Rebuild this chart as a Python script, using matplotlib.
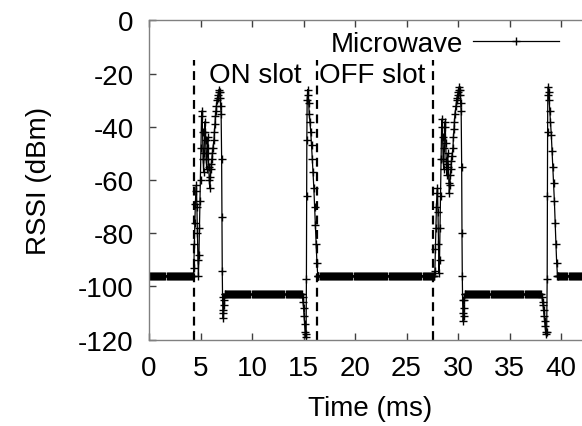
import numpy as np
import matplotlib
matplotlib.use('Agg')
import matplotlib.pyplot as plt

plt.rcParams['font.family'] = ['Liberation Sans', 'DejaVu Sans']
plt.rcParams['axes.unicode_minus'] = False

# sampling period of the flat parts (ms)
SAMPLE_MS = 0.1

# flat RSSI stretches: (start ms, end ms, level dBm)
flat_segments = [
    (0.0, 4.30, -96),
    (7.35, 14.90, -103),
    (16.45, 27.70, -96),
    (30.65, 38.15, -103),
    (39.72, 43.0, -96),
]

# ON slot burst, cycle 1
burst1_t = [4.30, 4.35, 4.40, 4.45, 4.50, 4.55, 4.60, 4.65, 4.70, 4.75, 4.80, 4.85, 4.90, 4.95,
            5.00, 5.05, 5.10, 5.15, 5.20, 5.25, 5.30, 5.35, 5.40, 5.45, 5.50, 5.55, 5.60, 5.65,
            5.70, 5.75, 5.80, 5.85, 5.90, 5.95, 6.00, 6.05, 6.10, 6.15, 6.20, 6.30, 6.35, 6.40,
            6.45, 6.50, 6.55, 6.60, 6.65, 6.70, 6.75, 6.80, 6.85, 6.90, 6.95, 7.00, 7.05, 7.08,
            7.11, 7.14, 7.17, 7.20, 7.23, 7.26, 7.30, 7.35]
burst1_v = [-96, -93, -84, -76, -69, -64, -62, -70, -80, -90, -96, -88, -78, -68,
            -60, -48, -36, -34, -42, -52, -57, -50, -42, -38, -45, -52, -56, -50,
            -44, -48, -55, -60, -63, -59, -56, -54, -52, -50, -48, -45, -42, -39,
            -36, -34, -32, -30, -29, -28, -27, -26, -27, -29, -32, -35, -52, -74,
            -94, -104, -109, -112, -110, -107, -105, -103]

# end-of-slot spike, cycle 1
spike1_t = [14.90, 14.95, 15.00, 15.05, 15.10, 15.15, 15.20, 15.25, 15.28, 15.30, 15.32, 15.35,
            15.40, 15.45, 15.50, 15.55, 15.62, 15.70, 15.78, 15.85, 15.92, 16.00, 16.08, 16.15,
            16.22, 16.30, 16.38, 16.45]
spike1_v = [-104, -106, -108, -111, -114, -117, -119, -118, -97, -66, -45, -30,
            -26, -28, -31, -35, -38, -42, -47, -52, -57, -63, -70, -77,
            -84, -91, -96, -96]

# ON slot burst, cycle 2
burst2_t = [27.70, 27.75, 27.80, 27.85, 27.90, 27.95, 28.00, 28.05, 28.10, 28.15, 28.20, 28.25,
            28.30, 28.35, 28.40, 28.45, 28.50, 28.55, 28.60, 28.65, 28.70, 28.75, 28.80, 28.85,
            28.90, 28.95, 29.00, 29.05, 29.10, 29.15, 29.20, 29.25, 29.30, 29.35, 29.40, 29.50,
            29.55, 29.60, 29.65, 29.70, 29.80, 29.85, 29.90, 29.95, 30.00, 30.05, 30.10, 30.15,
            30.20, 30.25, 30.30, 30.35, 30.38, 30.41, 30.44, 30.47, 30.50, 30.53, 30.56, 30.60,
            30.65]
burst2_v = [-96, -94, -86, -78, -70, -65, -63, -72, -84, -95, -90, -78,
            -66, -52, -40, -37, -44, -52, -56, -48, -40, -38, -46, -53,
            -58, -54, -50, -55, -61, -65, -62, -58, -56, -53, -51, -48,
            -44, -41, -38, -35, -32, -30, -29, -28, -27, -26, -25, -26,
            -28, -31, -34, -55, -80, -96, -105, -110, -113, -111, -108, -105,
            -103]

# end-of-slot spike, cycle 2
spike2_t = [38.15, 38.20, 38.25, 38.30, 38.35, 38.40, 38.45, 38.50, 38.55, 38.60, 38.65, 38.67,
            38.69, 38.71, 38.75, 38.80, 38.85, 38.90, 38.97, 39.05, 39.12, 39.20, 39.27, 39.35,
            39.42, 39.50, 39.57, 39.65, 39.72]
spike2_v = [-104, -106, -107, -109, -111, -113, -115, -117, -118, -117, -97, -66,
            -42, -28, -25, -27, -30, -34, -38, -43, -49, -55, -61, -68,
            -76, -84, -91, -96, -96]

# slot boundaries (ms)
slot_edges = [4.4, 16.3, 27.6]
slot_labels = ['ON slot', 'OFF slot']

x_ticks = [0, 5, 10, 15, 20, 25, 30, 35, 40]
y_ticks = [0, -20, -40, -60, -80, -100, -120]


def build_series():
    parts = []
    for start, end, level in flat_segments:
        ts = np.arange(start, end, SAMPLE_MS)
        parts.append((ts, np.full(len(ts), level)))
    for ts, vs in [(burst1_t, burst1_v), (spike1_t, spike1_v),
                   (burst2_t, burst2_v), (spike2_t, spike2_v)]:
        parts.append((np.array(ts), np.array(vs)))
    t = np.concatenate([p[0] for p in parts])
    v = np.concatenate([p[1] for p in parts])
    order = np.argsort(t, kind='stable')
    return t[order], v[order]


def main():
    t, v = build_series()

    fig = plt.figure(figsize=(5.82, 4.27), dpi=100)
    ax = fig.add_axes([149 / 582, 86.3 / 427, 443 / 582, 319.3 / 427])

    ax.plot(t, v, color='black', linewidth=0.9, marker='+', markersize=6,
            markeredgewidth=1.0, label='Microwave')

    for edge in slot_edges:
        ax.vlines(edge, -120, -15, colors='black', linestyles=(0, (4, 2.5)), linewidth=1.6)

    ax.text((slot_edges[0] + slot_edges[1]) / 2, -20.5, slot_labels[0], fontsize=20,
            ha='center', va='center')
    ax.text((slot_edges[1] + slot_edges[2]) / 2 - 0.3, -20.5, slot_labels[1], fontsize=20,
            ha='center', va='center')

    ax.set_xlim(0, 43)
    ax.set_ylim(-120, 0)
    ax.set_xticks(x_ticks)
    ax.set_yticks(y_ticks)
    ax.tick_params(direction='in', top=True, right=False, length=5, width=1,
                   color='#404040', labelsize=20, pad=11)
    for side in ['left', 'bottom', 'top']:
        ax.spines[side].set_color('#808080')
        ax.spines[side].set_linewidth(1)
    ax.spines['right'].set_visible(False)

    ax.set_xlabel('Time (ms)', fontsize=20, labelpad=10)
    ax.set_ylabel('RSSI (dBm)', fontsize=20, labelpad=19)

    fig.legend(loc='upper right', bbox_to_anchor=(559 / 582, 1 - 32 / 427),
               frameon=False, markerfirst=False, numpoints=1, fontsize=20,
               handlelength=3.1, handletextpad=0.35, borderpad=0, borderaxespad=0)

    fig.savefig('out.png', dpi=100)


if __name__ == "__main__":
    main()
